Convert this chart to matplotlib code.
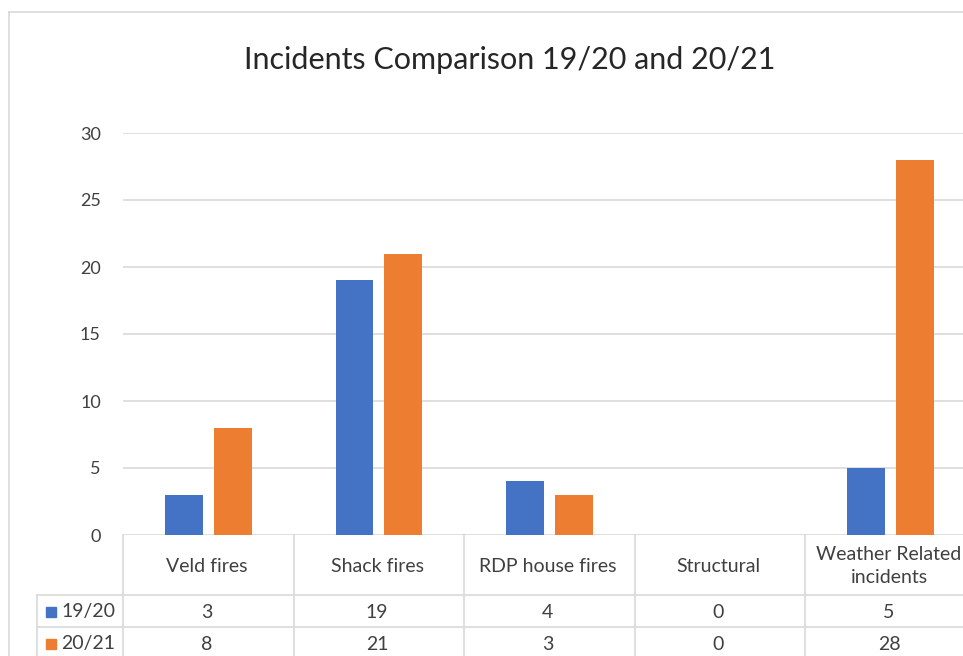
import matplotlib
matplotlib.use("Agg")
import matplotlib.pyplot as plt
from matplotlib.lines import Line2D
from matplotlib.patches import Rectangle
from matplotlib import transforms

# Data
categories = ["Veld fires", "Shack fires", "RDP house fires", "Structural", "Weather Related\nincidents"]
series_names = ["19/20", "20/21"]
values_1920 = [3, 19, 4, 0, 5]
values_2021 = [8, 21, 3, 0, 28]
y_ticks = [0, 5, 10, 15, 20, 25, 30]

colors = ["#4472C4", "#ED7D31"]
grid_col = "#D9D9D9"
text_col = "#404040"

W, H = 963, 656
plt.rcParams["font.family"] = ["Lato", "DejaVu Sans"]

fig = plt.figure(figsize=(W / 100, H / 100), dpi=100)


def fx(px):
    return px / W


def fy(py):
    return 1 - py / H


# Chart frame
fig.add_artist(Line2D([fx(9), fx(9)], [fy(12), fy(700)], color=grid_col, lw=1.2, transform=fig.transFigure))
fig.add_artist(Line2D([fx(9), fx(1000)], [fy(12), fy(12)], color=grid_col, lw=1.2, transform=fig.transFigure))

fig.text(fx(510), fy(60), "Incidents Comparison 19/20 and 20/21", ha="center", va="center",
         fontsize=22, color="#262626")

ax = fig.add_axes([fx(123), fy(535), (976 - 123) / W, (535 - 133) / H])
n = len(categories)
xs = list(range(n))
bw = 0.222
off = 0.143
ax.bar([x - off for x in xs], values_1920, width=bw, color=colors[0], zorder=3)
ax.bar([x + off for x in xs], values_2021, width=bw, color=colors[1], zorder=3)

ax.set_xlim(-0.5, n - 0.5)
ax.set_ylim(0, 30)
ax.set_yticks(y_ticks)
ax.set_xticks([])
ax.yaxis.grid(True, color=grid_col, lw=1.2, zorder=0)
for s in ax.spines.values():
    s.set_visible(False)
ax.tick_params(axis="y", length=0, pad=16, labelsize=13, labelcolor=text_col)

# Data table below the axis
mixed = transforms.blended_transform_factory(ax.transData, fig.transFigure)
for b in range(n + 1):
    xb = b - 0.5
    fig.add_artist(Line2D([xb, xb], [fy(535), fy(700)], color=grid_col, lw=1.2, transform=mixed, clip_on=False))
for yl in (595, 627):
    fig.add_artist(Line2D([fx(37), fx(1000)], [fy(yl), fy(yl)], color=grid_col, lw=1.2, transform=fig.transFigure))
fig.add_artist(Line2D([fx(37), fx(37)], [fy(595), fy(700)], color=grid_col, lw=1.2, transform=fig.transFigure))

for i, c in enumerate(categories):
    fig.text(i - 0.01, fy(566), c, transform=mixed, ha="center", va="center", fontsize=14,
             color=text_col, linespacing=1.45)

row_y = [612, 644]
for r, (name, vals) in enumerate(zip(series_names, [values_1920, values_2021])):
    yc = row_y[r]
    fig.add_artist(Rectangle((fx(46), fy(yc + 5)), 10 / W, 10 / H, color=colors[r], transform=fig.transFigure))
    fig.text(fx(61), fy(yc), name, ha="left", va="center", fontsize=14, color=text_col)
    for i, v in enumerate(vals):
        fig.text(i - 0.01, fy(yc), str(v), transform=mixed, ha="center", va="center", fontsize=14, color=text_col)

fig.savefig("out.png", dpi=100)
